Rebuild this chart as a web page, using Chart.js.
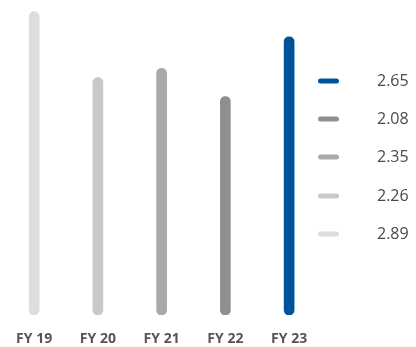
<!DOCTYPE html>
<html>
<head>
<meta charset="utf-8">
<script src="https://cdn.jsdelivr.net/npm/chart.js@4"></script>
<style>
html,body{margin:0;padding:0;background:#fff;}
#wrap{width:416px;height:347px;position:relative;}
</style>
</head>
<body>
<div id="wrap"><canvas id="c" width="416" height="347"></canvas></div>
<script>
const categories = ['FY 19', 'FY 20', 'FY 21', 'FY 22', 'FY 23'];
const values = [2.89, 2.26, 2.35, 2.08, 2.65];
const colors = ['#dcdddd', '#c9c9ca', '#a8a9ab', '#8e8f92', '#00539b'];
const legendLabels = ['2.65', '2.08', '2.35', '2.26', '2.89'];
const legendColors = ['#00539b', '#8e8f92', '#a8a9ab', '#c9c9ca', '#dcdddd'];

const legendPlugin = {
  id: 'sideLegend',
  afterDraw(chart) {
    const ctx = chart.ctx;
    const ys = [81, 119, 157, 196, 234];
    ctx.save();
    legendLabels.forEach((t, i) => {
      const y = ys[i];
      ctx.strokeStyle = legendColors[i];
      ctx.lineWidth = 5;
      ctx.lineCap = 'round';
      ctx.beginPath();
      ctx.moveTo(320.5, y);
      ctx.lineTo(336.5, y);
      ctx.stroke();
      ctx.fillStyle = '#4a4a4a';
      ctx.font = '16px "Open Sans"';
      ctx.textBaseline = 'middle';
      ctx.textAlign = 'left';
      ctx.fillText(t, 377, y);
    });
    ctx.restore();
  }
};

new Chart(document.getElementById('c'), {
  type: 'bar',
  data: {
    labels: categories,
    datasets: [{
      data: values,
      backgroundColor: colors,
      barThickness: 10,
      borderRadius: 5,
      borderSkipped: false
    }]
  },
  options: {
    responsive: false,
    animation: false,
    devicePixelRatio: 1,
    layout: { padding: { left: 1, right: 95, top: 0, bottom: 0 } },
    plugins: { legend: { display: false }, tooltip: { enabled: false } },
    scales: {
      x: {
        grid: { display: false, drawTicks: false },
        border: { display: false },
        afterFit(scale) { scale.height = 32; },
        ticks: {
          padding: 16,
          maxRotation: 0,
          color: '#555555',
          font: { family: 'Open Sans', size: 14, weight: 'bold' }
        }
      },
      y: {
        display: false,
        min: 0,
        max: 3
      }
    }
  },
  plugins: [legendPlugin]
});
</script>
</body>
</html>
